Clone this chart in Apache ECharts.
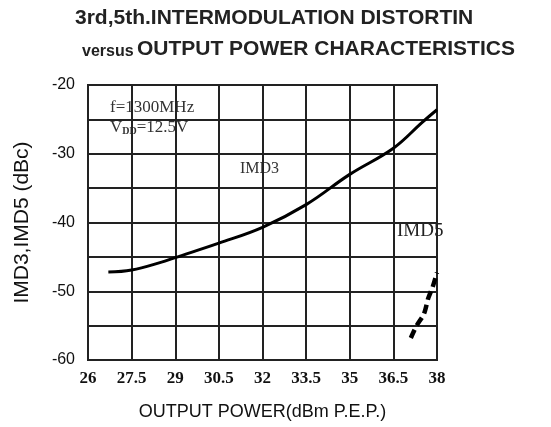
<!DOCTYPE html>
<html>
<head>
<meta charset="utf-8">
<script src="https://cdn.jsdelivr.net/npm/echarts@6/dist/echarts.min.js"></script>
<style>html,body{margin:0;padding:0;background:#fff;}#c{width:551px;height:427px;}</style>
</head>
<body>
<div id="c"></div>
<script>
var xTicks = [26, 27.5, 29, 30.5, 32, 33.5, 35, 36.5, 38];
var yTicks = [-20, -30, -40, -50, -60];
var imd3X = [26.7, 27.5, 28.5, 29, 30.5, 32, 33.5, 35, 36.5, 37.5, 38];
var imd3Y = [-47.2, -46.9, -45.8, -45.1, -43.0, -40.7, -37.4, -33.0, -29.2, -25.4, -23.6];
var imd5X = [37.1, 37.3, 37.55, 37.7, 37.85, 38.0];
var imd5Y = [-56.8, -55.0, -53.3, -51.0, -49.4, -47.3];

function pairs(xs, ys){ return xs.map(function(x,i){ return [x, ys[i]]; }); }

var chart = echarts.init(document.getElementById('c'));
chart.setOption({
  backgroundColor: '#fff',
  animation: false,
  grid: { left: 88, right: 114, top: 85, bottom: 67, show: true, borderColor: '#222', borderWidth: 2 },
  xAxis: {
    type: 'value', min: 26, max: 38, interval: 1.5,
    axisLine: { show: true, lineStyle: { color: '#222', width: 2 } },
    axisTick: { show: false },
    splitLine: { show: true, lineStyle: { color: '#222', width: 2 } },
    axisLabel: { color: '#111', fontFamily: 'Liberation Serif', fontWeight: 'bold', fontSize: 17, margin: 10,
      formatter: function(v){ return xTicks.indexOf(v) >= 0 ? String(v) : ''; } },
    name: 'OUTPUT POWER(dBm P.E.P.)', nameLocation: 'middle', nameGap: 43,
    nameTextStyle: { color: '#111', fontFamily: 'Liberation Sans', fontSize: 18 }
  },
  yAxis: {
    type: 'value', min: -60, max: -20, interval: 5,
    axisLine: { show: true, lineStyle: { color: '#222', width: 2 } },
    axisTick: { show: false },
    splitLine: { show: true, lineStyle: { color: '#222', width: 2 } },
    axisLabel: { color: '#111', fontFamily: 'Liberation Sans', fontSize: 16, margin: 13,
      formatter: function(v){ return yTicks.indexOf(v) >= 0 ? String(v) : ''; } },
    name: 'IMD3,IMD5 (dBc)', nameLocation: 'middle', nameGap: 55, nameRotate: 90,
    nameTextStyle: { color: '#111', fontFamily: 'Liberation Sans', fontSize: 21 }
  },
  series: [
    { type: 'line', name: 'IMD3', data: pairs(imd3X, imd3Y), smooth: 0.4, symbol: 'none',
      lineStyle: { color: '#000', width: 3 } },
    { type: 'line', name: 'IMD5', data: pairs(imd5X, imd5Y), smooth: 0.3, symbol: 'none',
      lineStyle: { color: '#000', width: 4.5, type: [9, 5] } }
  ],
  graphic: [
    { type: 'text', left: 75, top: 8, style: { text: '3rd,5th.INTERMODULATION DISTORTIN', fill: '#222',
      font: 'bold 21px "Liberation Sans"' } },
    { type: 'text', left: 82, top: 39, style: { text: '{s|versus} {b|OUTPUT POWER CHARACTERISTICS}', fill: '#222',
      rich: { s: { fontFamily: 'Liberation Sans', fontWeight: 'bold', fontSize: 16, fill: '#222', verticalAlign: 'bottom' },
              b: { fontFamily: 'Liberation Sans', fontWeight: 'bold', fontSize: 21, fill: '#222' } } } },
    { type: 'text', left: 110, top: 99, style: { text: 'f=1300MHz', fill: '#333', font: '17px "Liberation Serif"' } },
    { type: 'text', left: 110, top: 119, style: { text: 'V{sub|DD}=12.5V', fill: '#333',
      rich: { sub: { fontFamily: 'Liberation Serif', fontSize: 10, fontWeight: 'bold', verticalAlign: 'bottom', padding: [8,0,0,0], fill: '#333' } },
      fontFamily: 'Liberation Serif', fontSize: 17 } },
    { type: 'text', left: 240, top: 161, style: { text: 'IMD3', fill: '#333', font: '16px "Liberation Serif"' } },
    { type: 'text', left: 397, top: 222, style: { text: 'IMD5', fill: '#222', font: '19px "Liberation Serif"' } }
  ]
});
</script>
</body>
</html>
